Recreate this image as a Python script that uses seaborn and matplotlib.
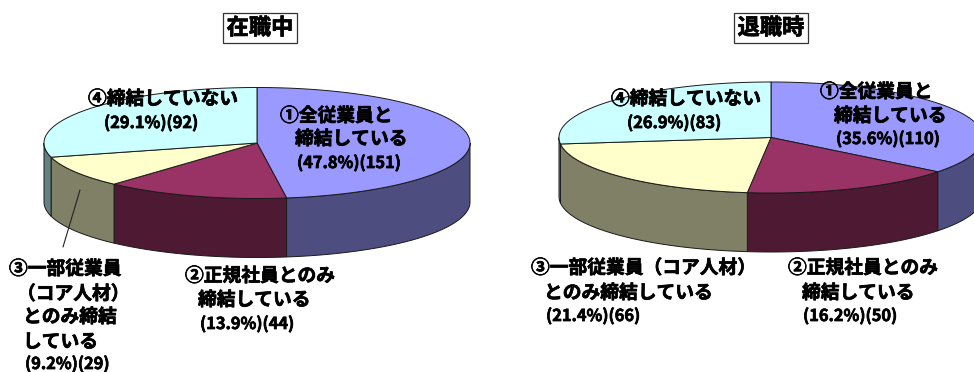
import numpy as np
import matplotlib
matplotlib.use("Agg")
import matplotlib.pyplot as plt
import matplotlib.patheffects as pe
import seaborn as sns

# ---- data ----
counts_now = [151, 44, 29, 92]
pct_now = [47.8, 13.9, 9.2, 29.1]
counts_exit = [110, 50, 66, 83]
pct_exit = [35.6, 16.2, 21.4, 26.9]
title_now = "在職中"
title_exit = "退職時"
labels_now = [
    ["①全従業員と", "締結している"],
    ["②正規社員とのみ", "締結している"],
    ["③一部従業員", "（コア人材）", "とのみ締結", "している"],
    ["④締結していない"],
]
labels_exit = [
    ["①全従業員と", "締結している"],
    ["②正規社員とのみ", "締結している"],
    ["③一部従業員（コア人材）", "とのみ締結している"],
    ["④締結していない"],
]

# ---- style ----
top_colors = sns.color_palette(["#9999FF", "#993366", "#FFFFCC", "#CCFFFF"])
side_colors = sns.color_palette(["#4D4D80", "#4D1933", "#808066", "#668080"])
EDGE = "#1a1a1a"
LABEL_PT = 13.5
NUM_PT = 11.8
HEAVY = [pe.withStroke(linewidth=0.5, foreground="black")]

# ---- layout, in figure pixels ----
PIE_NOW = dict(cx=257, cy=143, rx=213, ry=55.5, depth=59)
PIE_EXIT = dict(cx=771, cy=137.5, rx=212, ry=55.5, depth=59)
POS_NOW = [
    [(280, 116), (295, 139), (297, 163)],
    [(185, 276), (198, 300), (200, 324)],
    [(9, 269), (17, 294), (23, 317), (23, 342), (25, 364)],
    [(88, 99), (104, 123)],
]
POS_EXIT = [
    [(820, 92), (834, 116), (836, 139)],
    [(788, 268), (802, 293), (803, 316)],
    [(531, 268), (544, 293), (546, 316)],
    [(611, 99), (627, 123)],
]

sns.set_theme(style="white")
plt.rcParams["font.family"] = ["Noto Sans CJK JP", "DejaVu Sans"]
plt.rcParams["font.weight"] = "bold"

fig = plt.figure(figsize=(9.74, 3.72), dpi=100, facecolor="white")
ax = fig.add_axes([0, 0, 1, 1])
ax.set_xlim(0, 974)
ax.set_ylim(372, 0)
ax.axis("off")


def pie3d(ax, counts, cx, cy, rx, ry, depth):
    """Tilted pie: clockwise from 12 o'clock, with a wall along the front half."""
    shares = np.asarray(counts, dtype=float) / np.sum(counts)
    edges = np.concatenate([[0], np.cumsum(shares)]) * 2 * np.pi
    px = lambda t: cx + rx * np.sin(t)
    py = lambda t: cy - ry * np.cos(t)
    # walls
    for i in range(len(shares)):
        a, b = max(edges[i], np.pi / 2), min(edges[i + 1], 3 * np.pi / 2)
        if b <= a:
            continue
        t = np.linspace(a, b, 120)
        xs = np.r_[px(t), px(t[::-1])]
        ys = np.r_[py(t), py(t[::-1]) + depth]
        ax.fill(xs, ys, facecolor=side_colors[i], edgecolor=EDGE, lw=0.7, zorder=2)
    # top face
    for i in range(len(shares)):
        t = np.linspace(edges[i], edges[i + 1], 200)
        xs = np.r_[cx, px(t)]
        ys = np.r_[cy, py(t)]
        ax.fill(xs, ys, facecolor=top_colors[i], edgecolor=EDGE, lw=0.7, zorder=3)


def annotate(ax, labels, pcts, counts, positions):
    for lines, pct, n, pos in zip(labels, pcts, counts, positions):
        for line, (x, y) in zip(lines, pos):
            ax.text(x, y, line, fontsize=LABEL_PT, fontweight="bold", color="black",
                    ha="left", va="center", zorder=6, path_effects=HEAVY)
        x, y = pos[len(lines)]
        ax.text(x, y, f"({pct}%)({n})", fontsize=NUM_PT, fontweight="bold", color="black",
                ha="left", va="center", zorder=6, path_effects=HEAVY)


def title(ax, text, x, y):
    ax.text(x, y, text, fontsize=16, fontweight="bold", color="black",
            ha="center", va="center", zorder=6, path_effects=HEAVY,
            bbox=dict(boxstyle="square,pad=0.16", facecolor="white",
                      edgecolor="#333333", lw=0.9))


pie3d(ax, counts_now, **PIE_NOW)
pie3d(ax, counts_exit, **PIE_EXIT)
annotate(ax, labels_now, pct_now, counts_now, POS_NOW)
annotate(ax, labels_exit, pct_exit, counts_exit, POS_EXIT)
ax.plot([80, 63], [190, 247], color="#222222", lw=0.8, zorder=5)
title(ax, title_now, 260, 28)
title(ax, title_exit, 771, 28)
sns.despine(ax=ax, left=True, bottom=True)

fig.savefig("out.png", dpi=100, facecolor="white")
